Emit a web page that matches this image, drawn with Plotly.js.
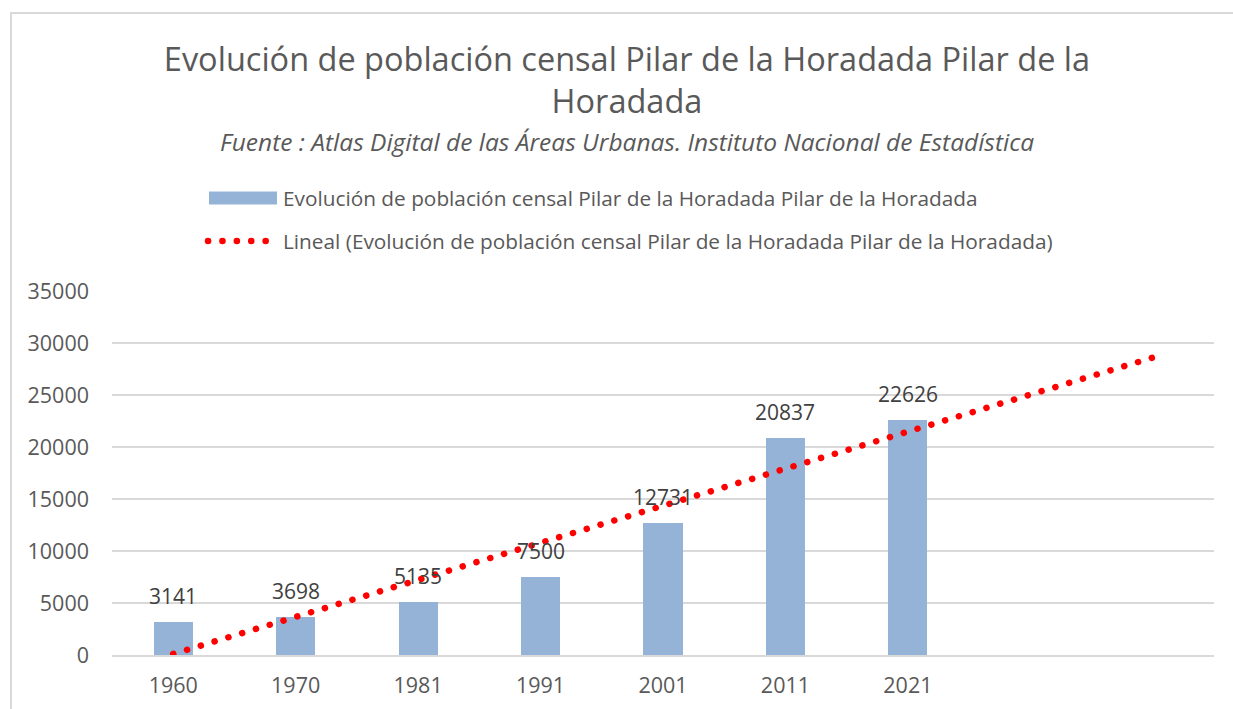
<!DOCTYPE html>
<html><head><meta charset="utf-8">
<script src="https://cdn.plot.ly/plotly-3.0.1.min.js"></script>
<style>
html,body{margin:0;padding:0;background:#fff;overflow:hidden}
#chart{width:1233px;height:709px}
.scatterlayer .js-line,.legend .legendlines path{stroke-linecap:round}
</style>
</head><body><div id="chart"></div>
<script>
// ---- data ----
const years = ['1960', '1970', '1981', '1991', '2001', '2011', '2021'];
const population = [3141, 3698, 5135, 7500, 12731, 20837, 22626];
const forecastPeriods = 2;               // linear trendline extended 2 periods forward
const trendValues = [100, 28600];        // trendline start / end values
const seriesName = 'Evolución de población censal Pilar de la Horadada Pilar de la Horadada';
const trendName = 'Lineal (Evolución de población censal Pilar de la Horadada Pilar de la Horadada)';
const titleText = 'Evolución de población censal Pilar de la Horadada Pilar de la<br>Horadada';
const subtitleText = 'Fuente : Atlas Digital de las Áreas Urbanas. Instituto Nacional de Estadística';

const idx = years.map((_, i) => i);
const lastSlot = years.length - 1 + forecastPeriods;
const FONT = 'Open Sans, Segoe UI, sans-serif';
const GREY = '#595959';

const barTrace = {
  type: 'bar', x: idx, y: population, name: seriesName,
  width: 0.32, marker: {color: '#95B3D7', line: {width: 0}},
  hoverinfo: 'skip', legendgroup: 'a'
};
const trendTrace = {
  type: 'scatter', mode: 'lines', x: [0, lastSlot], y: trendValues, name: trendName,
  line: {color: '#FF0000', width: 6.5, dash: '0.1px,14.3px'},
  hoverinfo: 'skip', legendgroup: 'b'
};

const labelAnnotations = population.map((v, i) => ({
  x: i, y: v, xref: 'x', yref: 'y', text: String(v), showarrow: false,
  yanchor: 'bottom', yshift: 10, font: {family: FONT, size: 21, color: '#404040'}
}));

const layout = {
  width: 1233, height: 709,
  margin: {l: 112, r: 19, t: 291, b: 54, autoexpand: false},
  paper_bgcolor: '#fff', plot_bgcolor: '#fff',
  font: {family: FONT, color: GREY},
  title: {
    text: titleText, xref: 'container', yref: 'container',
    x: 0.5085, xanchor: 'center', y: 1 - 71 / 709, yanchor: 'middle',
    font: {family: FONT, size: 32.5, color: GREY}
  },
  showlegend: true,
  legend: {
    orientation: 'v', xref: 'container', yref: 'container',
    x: 203 / 1233, xanchor: 'left', y: 1 - 178 / 709, yanchor: 'top',
    font: {family: FONT, size: 20.8, color: GREY},
    itemwidth: 70, traceorder: 'grouped', tracegroupgap: 13,
    bgcolor: 'rgba(0,0,0,0)', itemclick: false, itemdoubleclick: false
  },
  xaxis: {
    type: 'linear', range: [-0.5, lastSlot + 0.5],
    tickmode: 'array', tickvals: idx, ticktext: years, tickangle: 0,
    showgrid: false, zeroline: false, showline: true, linecolor: '#d9d9d9', linewidth: 1.5,
    ticks: '', tickfont: {family: FONT, size: 21.5, color: GREY}, ticklabelstandoff: 11,
    fixedrange: true
  },
  yaxis: {
    range: [0, 35000], dtick: 5000, tickformat: 'd',
    showgrid: true, gridcolor: '#d9d9d9', gridwidth: 1.5,
    zeroline: false, showline: false, ticks: '',
    tickfont: {family: FONT, size: 21.5, color: GREY}, ticklabelstandoff: 22,
    fixedrange: true
  },
  annotations: [
    {
      xref: 'paper', yref: 'paper', x: (627 - 112) / 1102, y: (655 - 142) / 364,
      xanchor: 'center', yanchor: 'middle', showarrow: false,
      text: '<i>' + subtitleText + '</i>',
      font: {family: FONT, size: 24.5, color: GREY}
    }
  ].concat(labelAnnotations),
  shapes: [{
    type: 'rect', xref: 'paper', yref: 'paper',
    x0: (11 - 112) / 1102, x1: 1.3, y0: -0.5, y1: (655 - 13) / 364,
    line: {color: '#d9d9d9', width: 2}, fillcolor: 'rgba(0,0,0,0)', layer: 'below'
  }],
  bargap: 0
};

function fixLegendBar(gd) {
  const item = gd.querySelectorAll('.legend .traces')[0];
  if (!item) return;
  item.querySelectorAll('.legendpoints path').forEach(p => {
    p.setAttribute('d', 'M-34,6.5H34V-6.5H-34Z');
  });
}

const gd = document.getElementById('chart');
Plotly.newPlot(gd, [barTrace, trendTrace], layout, {staticPlot: true, displayModeBar: false})
  .then(() => { fixLegendBar(gd); gd.on && gd.on('plotly_afterplot', () => fixLegendBar(gd)); });
</script>
</body></html>
